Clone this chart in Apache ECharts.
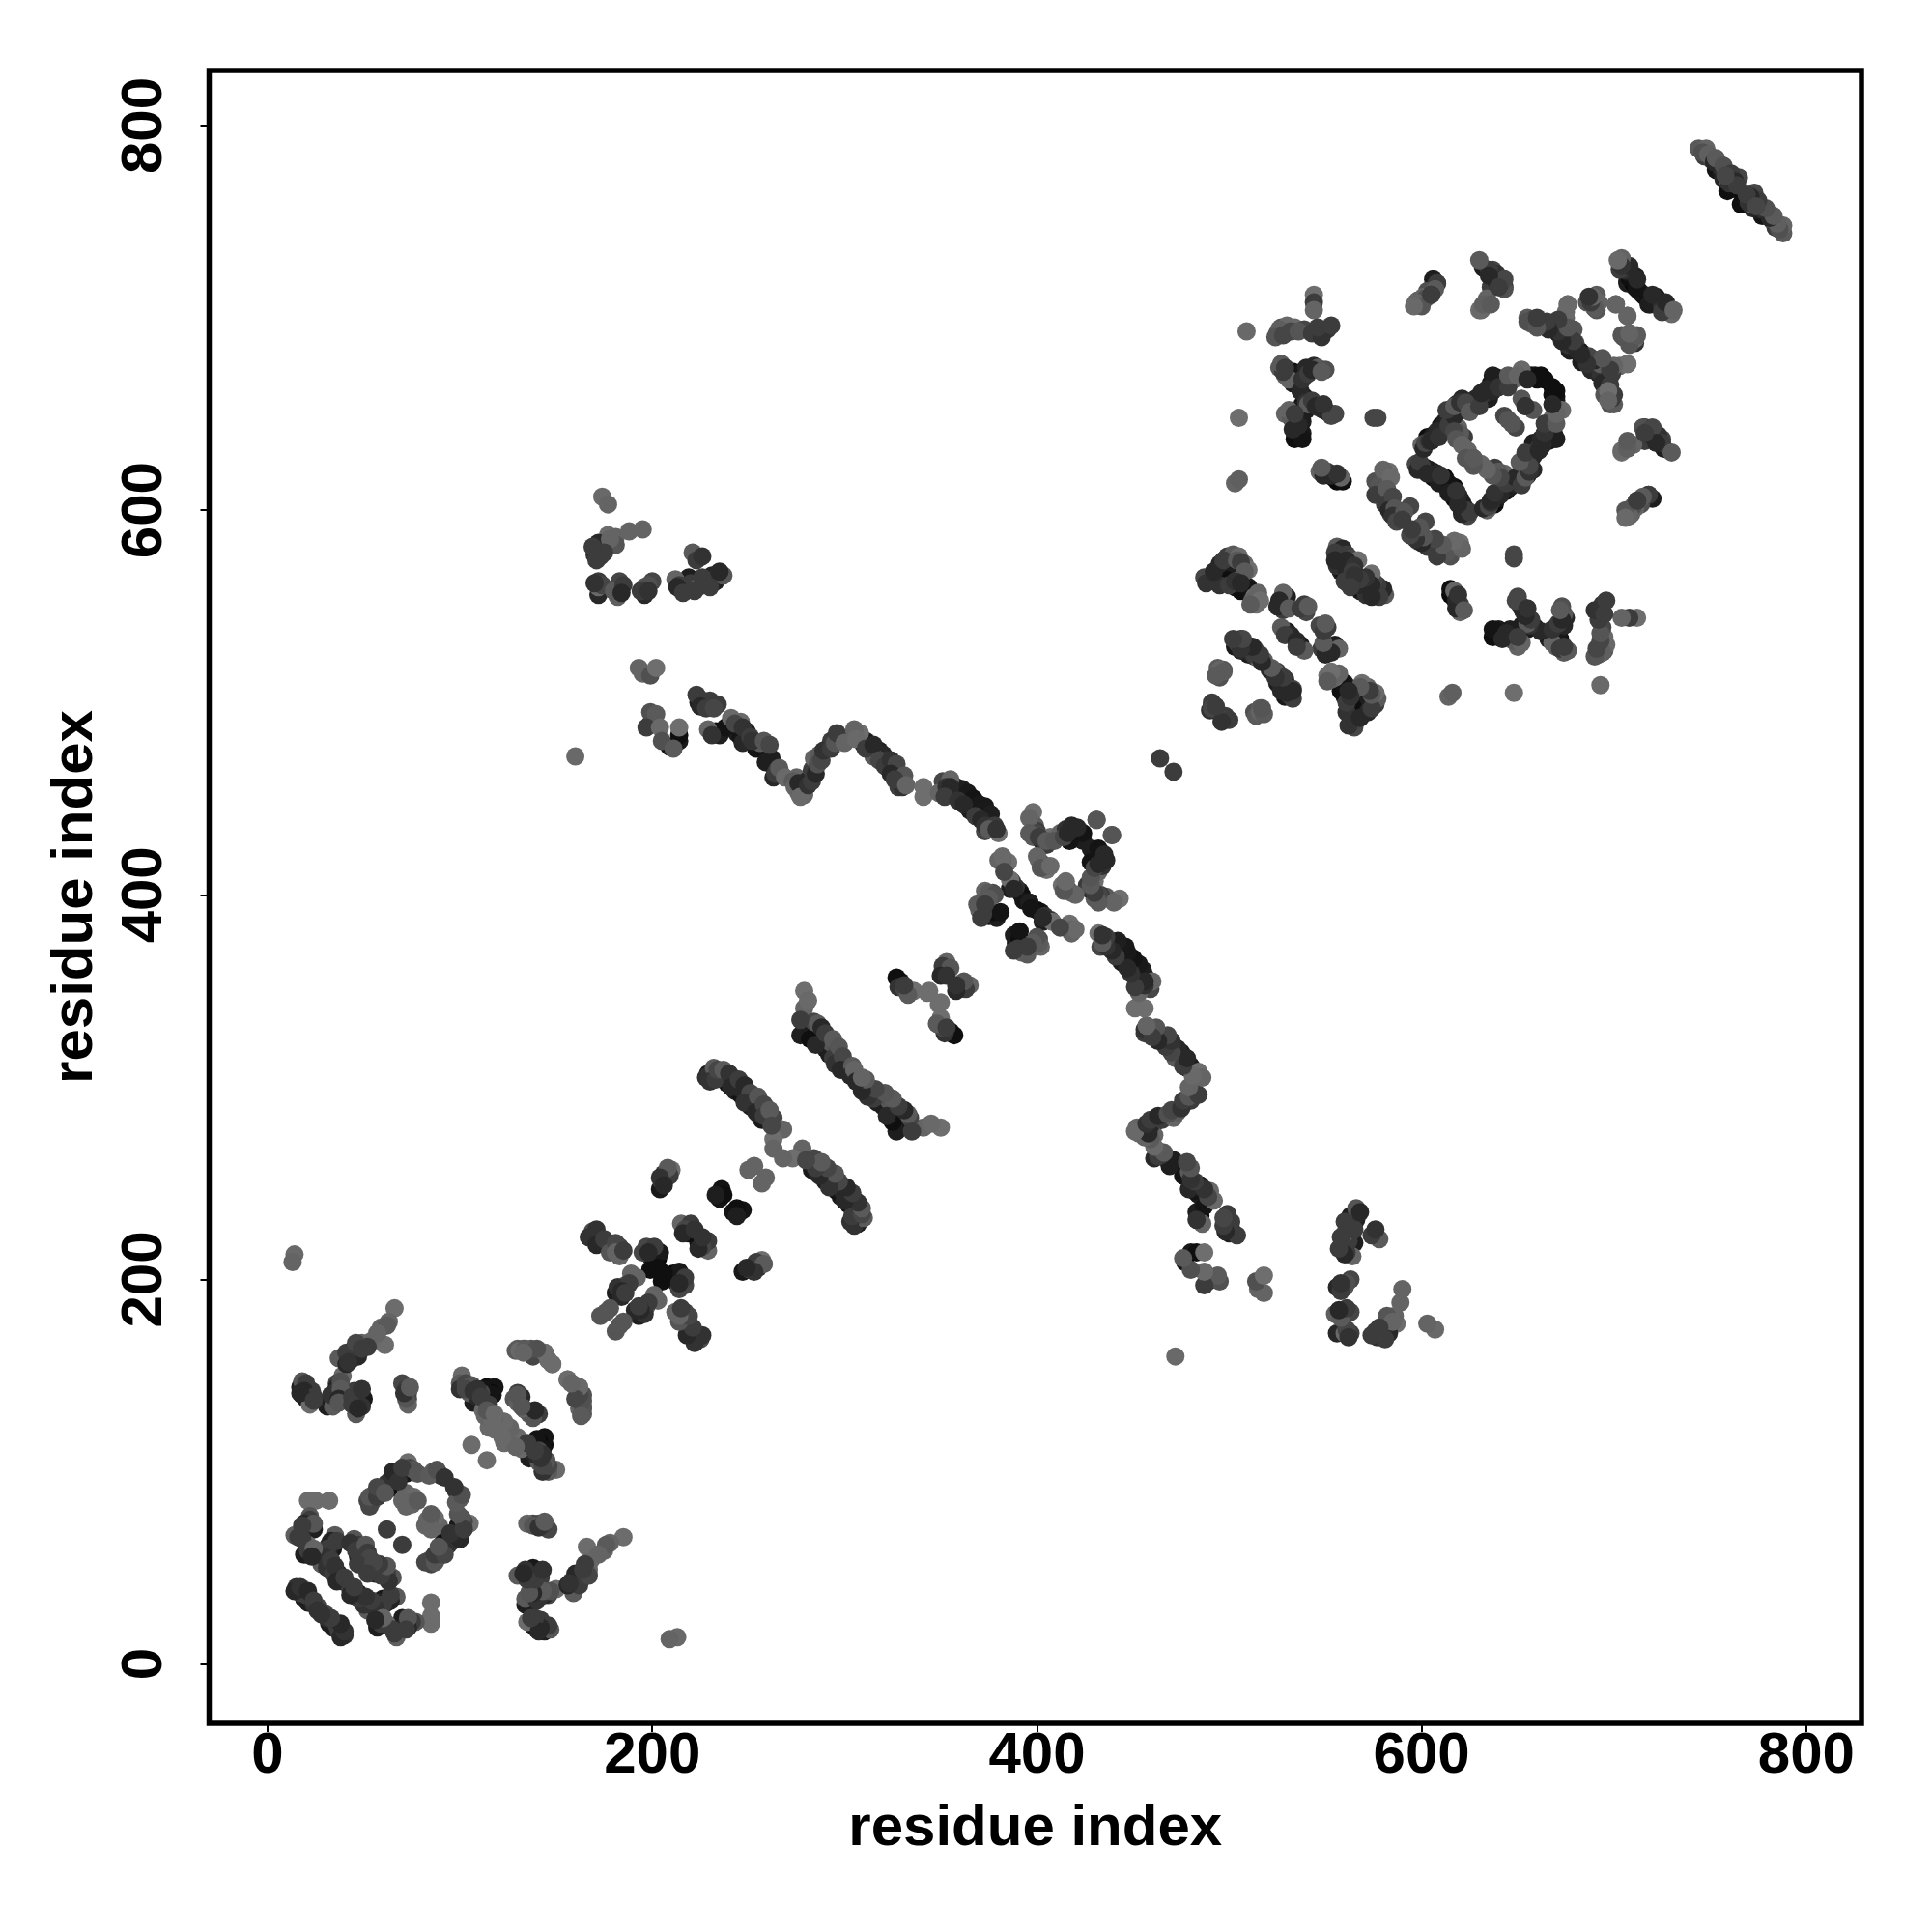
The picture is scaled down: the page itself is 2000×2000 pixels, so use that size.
<!DOCTYPE html>
<html>
<head>
<meta charset="utf-8">
<style>html,body{margin:0;padding:0;background:#fff}#c{width:2000px;height:2000px}</style>
<script src="https://cdn.jsdelivr.net/npm/echarts@6/dist/echarts.min.js"></script>
</head>
<body>
<div id="c"></div>
<script>
// Contact map: each entry is [residue i, residue j, grey level]. The map is symmetric.
const tickLabels = [0, 200, 400, 600, 800];
const axisTitle = 'residue index';

const bandA = [[15,40,50],[16,38,30],[17,37,60],[18,37,20],[20,36,60],[22,33,15],[24,31,50],[26,30,70],
 [35,67,90],[33,64,35],[32,62,25],[32,58,35],[31,55,45],[28,52,90],[31,50,50],[34,47,60],[37,45,50],[39,43,60],
 [45,65,85],[47,62,60],[48,61,70],[49,58,30],[49,55,25],[50,53,60],
 [14,38,40],[17,40,50],[19,34,30],[21,38,40],[21,32,30],[24,33,60],[26,28,50],
 [36,64,60],[31,60,60],[34,60,25],[29,56,50],[33,54,60],[35,51,50],[33,49,30],[37,47,30],[36,43,40],[40,45,60],
 [43,63,50],[46,59,60],[51,62,85],[52,58,60],[47,56,30],[53,55,70],[47,52,60]];
const bandB = [[21,85,108],[32,85,108],[25,85,108],[22,77,85],[22,75,60],[21,72,40],[20,70,20],[18,69,15],[14,67,95],[16,66,60],[21,62,105],[21,57,30],[21,59,60],
 [19,73,40],[24,73,85],[24,70,30],[18,72,60],[18,65,60],[24,60,100],[19,57,30],[23,56,40]];
const ringA = [[54,84,80],[55,86,85],[55,88,70],[58,90,80],[60,92,60],[62,94,50],[64,96,30],[66,97,15],[68,98,15],[70,99,25],[73,105,110],[74,102,70],[76,101,85],
 [86,100,90],[89,99,70],[90,98,50],[72,89,100],[76,87,105],[72,82,100],[74,84,95],[62,70,60],
 [53,82,70],[52,85,70],[53,87,85],[57,87,60],[57,92,70],[61,89,85],[63,91,30],[65,93,15],[65,100,40],[68,95,50],[70,102,60],[72,99,25],[78,99,85],[84,98,90],[88,101,80],[92,97,50],[70,85,100],[75,83,100],[78,85,90]];
const crossA = [[14,213,105],[13,209,100],[66,185,108],[63,178,100],[59,175,100],[61,166,108],[54,168,105],[49,167,100],[47,165,90],[45,164,50],[43,161,20],[44,160,30],[43,158,60],[37,159,90],
 [18,147,85],[17,144,30],[20,143,50],[23,142,60],[18,140,20],[20,138,25],[22,135,108],
 [39,150,105],[36,146,70],[36,144,40],[35,141,60],[35,139,25],[33,136,20],[31,134,30],[34,134,90],
 [45,142,60],[47,141,20],[48,139,10],[46,137,40],[48,136,20],[46,130,90],
 [70,146,70],[72,143,60],[73,141,80],[73,138,70],[73,135,100],
 [62,176,90],[57,172,100],[52,165,60],[47,160,40],[41,162,60],[46,167,70],[49,164,60],[41,156,40],[42,157,50],
 [20,146,60],[19,142,40],[24,139,60],[17,141,40],[24,137,60],[38,147,80],[33,140,50],[38,143,90],[37,138,40],[34,138,30],[37,136,85],[44,139,60],[49,143,50],[50,138,25],[49,134,50],[44,135,60],[47,133,40],[72,138,85],[71,141,50],[74,144,90]];
const crossB = [[101,150,105],[100,146,90],[100,143,50],[103,146,70],[106,145,85],[105,141,90],[107,136,30],[109,139,40],[111,141,70],[114,144,15],[118,144,20],[116,141,10],[114,138,10],[112,132,105],
 [117,127,108],[120,125,105],[115,123,105],[125,120,100],[123,116,105],[129,114,100],
 [130,141,60],[131,137,95],[136,130,95],[140,130,85],
 [103,143,70],[107,142,50],[109,143,50],[110,137,30],[112,143,20],[117,140,20],[112,136,20],[111,139,60],[115,135,60],[113,129,100],[119,124,100],[122,126,100],[118,122,105],[126,123,105],[128,118,100],[126,117,105],[132,114,85],[130,118,105],[128,138,85],[133,133,100],[132,139,40],[134,132,85]];
const crossC = [[130,164,90],[133,164,85],[136,163,80],[140,162,70],[144,162,105],[148,156,108],[156,148,108],[162,144,108],[164,137,85],[163,131,105],[164,134,90],
 [129,163,90],[138,160,70],[146,158,100],[158,146,108],[164,140,80],[162,133,100]];
const crossD = [[106,114,108]];
const loopA = [[160,472,105]];
const upperLeftA = [[174,607,105],[177,603,100],[177,587,108],[181,586,100],[188,589,100],[195,590,100],[172,580,25],[170,577,50],[173,576,60],[177,581,25],[172,583,40],[181,582,85],[178,585,100],
 [172,563,60],[172,556,40],[172,560,105],[183,563,70],[183,559,50],[182,555,95],[196,556,40],[196,560,90],[200,563,70],[198,561,80],
 [212,564,100],[214,561,60],[217,561,30],[218,559,80],[220,562,60],[224,560,90],[228,563,85],[231,566,35],[234,566,50],[237,566,85],
 [221,578,90],[223,574,60],[226,576,50],
 [173,582,30],[171,574,60],[175,578,60],[169,581,60],[174,561,70],[170,562,50],[180,558,90],[185,561,60],[184,557,40],[194,558,60],[198,558,50],[213,560,40],[219,565,30],[222,558,60],[216,557,60],[226,565,60],[230,560,60],[233,563,30],[235,568,40]];
const upperLeftB = [[193,518,100],[195,515,100],[199,514,80],[202,518,110],[199,495,80],[202,494,90],[197,487,60],[199,489,25],[204,487,105],[205,480,80],[209,477,15],[211,476,90],[214,487,110],[214,480,25],[214,483,15]];
const longStrandA = [[223,504,60],[224,500,30],[226,501,25],[230,501,60],[234,499,60],[229,486,100],[233,485,10],[236,485,15],[241,492,105],[246,490,105],[244,484,30],[249,485,25],[250,483,30],[247,479,40],
 [256,479,90],[258,476,30],[260,474,25],[262,468,25],[263,461,40],[265,465,60],[267,463,100],[275,461,100],[276,453,100],[278,456,60],[280,459,40],[281,461,30],[283,465,60],[284,471,100],[287,473,90],[291,476,60],[293,480,60],[298,481,100],
 [303,482,108],[308,484,110],[311,480,30],[313,478,20],[316,474,40],[320,473,40],[315,472,90],[322,470,50],[325,467,70],[327,463,40],[330,460,100],[328,456,60],[329,458,30],
 [225,498,40],[228,497,60],[232,497,70],[231,483,50],[235,483,30],[238,487,20],[243,489,70],[247,487,50],[246,482,20],[251,482,60],[252,480,50],[254,476,20],[258,480,85],[261,478,70],[262,471,30],[259,469,30],[264,463,60],[266,466,90],[269,461,105],[273,459,90],[274,456,100],[279,452,100],[276,458,40],[277,451,105],[281,457,50],[283,459,60],[285,463,40],[286,468,80],[288,470,70],[289,475,50],[293,476,60],[295,479,85],[296,484,60],[300,479,100],[305,486,100],[306,481,105],[310,478,20],[311,476,60],[315,478,40],[318,475,30],[318,470,70],[321,467,60],[324,470,50],[327,468,70],[324,463,40],[331,462,85],[330,456,50],[326,460,60],[332,457,100]];
const longStrandB = [[341,456,110],[341,451,110],[351,459,70],[355,460,100],[349,453,100],[353,456,50],[358,456,30],[360,452,20],[363,450,25],[365,447,20],[367,447,25],[370,444,20],[371,442,25],[374,439,25],[376,438,30],[373,433,70],[380,432,110],
 [355,456,40],[352,451,60],[357,453,25],[361,455,30],[359,449,50],[364,453,25],[362,447,40],[367,450,20],[365,444,30],[370,447,25],[368,441,60],[373,446,25],[371,439,40],[376,442,30],[373,436,50],[378,436,60],[375,434,90],[379,434,50]];
const ringB = [[398,443,110],[399,436,90],[398,430,90],[400,433,60],[403,427,40],[405,426,60],[407,430,110],[412,432,100],[415,434,50],[418,436,40],[420,433,20],[422,430,10],[424,428,30],
 [401,418,100],[403,416,90],[405,413,110],[431,439,85],[439,431,85],
 [396,440,100],[400,432,70],[396,432,90],[401,430,60],[405,428,90],[409,428,85],[414,430,70],[416,432,40],[417,428,20],[421,435,40],[424,432,20],[400,420,100],[402,414,85],[407,415,105]];
const ringC = [[380,418,100],[385,417,110],[387,407,60],[389,404,50],[391,402,25],[392,400,15],[396,396,30],[377,401,70],[373,402,100],[375,401,90],[370,392,100],[372,390,60],[375,389,20],[379,389,10],[379,388,30],[371,392,30],[378,400,80],[386,408,110],[382,418,100],
 [382,420,105],[388,403,40],[386,403,30],[383,412,70],[393,397,20],[375,398,90],[369,395,90],[371,388,60],[377,391,15],[381,391,20],[373,395,60]];
const hairpinA = [[169,225,75],[169,222,30],[172,219,60],[177,217,70],[183,217,65],[183,212,100],[170,223,50],
 [197,217,70],[201,217,60],[203,211,5],[201,208,15],[192,201,100],[186,197,100],[182,196,50],[184,191,40],[178,185,85],[173,181,85],
 [215,229,100],[220,229,60],[219,224,15],[236,247,20],[235,242,20],[253,259,100],[250,257,100],
 [210,257,110],[206,255,50],[205,251,70],[204,247,25],
 [171,226,50],[167,222,50],[171,218,40],[175,221,60],[178,214,85],[181,219,70],[181,214,100],[185,215,60],[195,214,70],[198,214,40],[199,212,30],[204,214,25],[199,205,15],[203,206,15],[189,203,100],[188,198,60],[184,194,40],[186,193,60],[181,193,30],[176,183,85],
 [217,226,70],[216,224,40],[222,226,50],[237,244,15],[233,244,30],[209,254,60],[208,258,90],[204,253,50],[206,249,40]];
const hairpinB = [[228,305,50],[229,307,30],[232,310,90],[236,307,70],[238,305,40],[242,303,15],[244,301,30],[246,299,40],[249,298,30],[250,294,20],[252,293,60],[253,290,20],[256,288,85],[255,286,40],[260,286,60],[263,284,70],[268,278,100],[263,273,110],[263,268,100],
 [230,303,50],[233,304,60],[234,309,70],[237,309,90],[239,302,20],[240,307,50],[241,300,40],[245,304,60],[243,298,30],[248,301,40],[246,296,20],[251,297,70],[248,292,50],[255,295,85],[251,290,30],[254,287,40],[258,291,70],[258,285,60],[261,288,90],[257,283,25],[262,280,70]];
const hairpinC = [[279,350,110],[279,341,100],[279,336,100],[279,330,30],[284,334,70],[281,328,20],[286,330,15],[284,326,20],[288,326,15],[293,323,85],[290,320,30],[296,319,80],[294,315,60],[300,311,30],[298,313,15],[302,308,100],
 [281,345,105],[277,335,60],[277,327,30],[282,325,15],[286,333,90],[288,331,40],[285,322,40],[290,328,60],[291,321,20],[294,325,90],[292,317,30],[297,321,85],[295,312,50],[299,316,70],[301,309,15],[298,309,40],[304,311,90],[303,306,40],[305,309,100]];
const hairpinD = [[329,355,20],[328,352,50],[331,351,70],[336,350,110],[344,350,110],[349,343,110],[353,365,100],[353,360,40],[352,362,70],
 [327,357,15],[333,348,90],[331,353,60],[351,363,60],[355,362,85],[350,358,40],[353,358,50]];
const midA = [[487,565,70],[490,565,20],[495,572,40],[497,570,30],[499,576,60],[502,577,90],[505,576,105],[508,572,100],[510,569,110],[495,561,50],[500,561,60],[503,560,30],[506,558,15],[513,555,110],[514,551,110],[512,553,100],
 [528,557,100],[527,551,15],[529,553,25],[528,548,60],[539,551,60],[540,547,70],[530,537,25],[527,539,90],
 [504,532,30],[505,530,40],[507,529,15],[509,528,30],[511,526,40],[516,524,90],[523,515,100],[525,513,60],[527,510,15],[529,507,30],[531,504,60],
 [495,516,100],[495,514,30],[491,498,70],[497,491,70],[513,495,80],[517,495,100],
 [488,562,50],[492,568,40],[494,567,20],[497,574,60],[501,572,30],[504,574,90],[506,573,60],[508,568,90],[503,563,50],[498,564,15],[506,562,40],[510,560,25],[511,558,20],[515,557,100],[516,553,110],[511,551,90],
 [526,553,40],[530,555,30],[525,550,40],[531,549,90],[537,549,60],[541,550,90],[532,535,40],[529,535,60],
 [506,533,40],[503,529,25],[506,527,40],[509,530,30],[513,528,60],[513,524,50],[518,522,90],[521,517,40],[525,516,60],[525,510,30],[529,512,40],[528,506,50],[533,507,70],[533,502,60],[491,500,60],
 [490,496,50],[498,493,60],[516,497,90],[494,518,90],[497,517,85],[514,493,90]];
const midB = [[556,581,90],[559,580,40],[561,577,60],[563,575,70],[567,574,110],[556,571,50],[558,568,30],[560,566,15],[563,562,25],
 [555,578,60],[558,577,25],[557,575,30],[561,574,40],[555,574,40],[559,571,15],[561,569,40],[565,571,50],[562,566,30],[564,568,60],[566,565,50],[560,563,60]];
const blockA = [[505,648,110],[503,614,100],[505,616,95],[509,693,105],
 [525,692,85],[527,695,80],[530,696,105],[534,695,105],[539,694,70],[546,692,50],[551,694,55],[544,712,110],[544,708,60],[544,704,100],
 [526,674,90],[529,670,95],[531,668,100],[534,667,20],[535,669,15],[537,671,30],[540,674,40],[544,675,40],[546,674,90],[550,673,80],
 [537,662,40],[539,659,30],[540,656,50],[541,655,90],[547,653,85],[551,651,20],[555,650,70],[529,650,100],[532,648,90],[536,648,30],[536,644,40],[536,641,20],[536,638,15],
 [547,620,100],[551,620,60],[554,617,20],[556,615,10],[558,617,100],[575,648,70],[577,648,70],
 [528,672,60],[531,671,30],[533,672,20],[533,666,30],[536,666,15],[538,668,50],[538,672,25],[541,671,60],[543,673,40],[548,672,90],[527,676,90],[529,674,60],
 [538,655,25],[540,652,30],[543,657,60],[545,654,40],[549,652,40],[553,649,70],[549,655,50],[531,652,100],[534,645,25],[533,642,40],[538,646,30],[534,650,60],[538,640,25],[534,637,15],[538,637,20],
 [526,694,95],[524,690,85],[528,691,70],[532,693,70],[536,693,85],[543,692,60],[548,690,50],[546,695,60],[553,696,60],
 [549,618,40],[553,618,40],[556,619,50],[559,615,15],[548,622,90]];
const blockB = [[576,615,80],[583,620,110],[581,616,100],[578,611,80],[580,607,60],[582,604,30],[584,601,40],[584,598,80],[589,597,100],[594,602,70],
 [597,624,70],[600,623,60],[602,622,30],[604,621,30],[608,619,40],[612,617,10],
 [578,613,85],[580,621,100],[584,617,105],[576,608,60],[582,611,90],[581,603,60],[585,607,70],[583,600,40],[586,601,85],[585,597,50],[587,594,70],[591,599,85],[590,595,60],
 [598,621,40],[600,621,15],[599,625,60],[603,619,40],[606,620,30],[606,617,15],[610,618,50],[613,615,20],[609,614,30]];
const ringD = [[600,634,100],[603,638,15],[606,639,30],[608,641,40],[610,644,20],[612,646,30],[614,648,40],[616,651,30],[618,655,20],[621,658,40],[622,652,100],[626,654,100],[628,658,40],[632,658,30],[633,661,50],[634,663,40],[636,666,20],[639,669,30],[643,667,15],[648,668,105],[652,673,105],[657,670,25],[659,670,20],[662,670,15],
 [619,643,100],[622,638,60],[624,631,100],[620,640,90],[643,649,70],[645,647,85],[652,658,85],[654,654,50],
 [601,632,40],[602,635,70],[604,636,50],[605,636,40],[609,638,50],[611,642,30],[614,644,60],[617,649,40],[613,652,60],[617,654,90],[620,656,50],[623,656,70],[625,651,90],[628,655,20],[630,654,60],[631,661,40],[635,658,30],[637,662,40],[640,664,50],[637,670,30],[645,664,60],[645,670,90],[650,670,100],[655,668,40],[660,668,15],[664,668,15],
 [617,641,70],[618,637,85],[621,634,100],[623,627,85],[627,627,90]];
const rightA = [[655,700,90],[658,699,60],[662,697,110],[668,696,25],[671,692,30],[676,707,110],[675,700,100],[676,693,90],[678,690,40],[680,687,70],[683,682,20],[686,679,40],[689,676,20],[691,674,60],[694,673,90],[698,674,100],[703,675,105],[707,676,105],[696,668,60],[696,663,100],[699,658,70],[698,655,80],
 [689,711,100],[689,708,90],[690,705,85],[701,707,100],[707,701,100],[705,690,90],[708,688,60],[711,689,100],[711,687,50],
 [709,720,5],[706,725,50],[708,722,30],[711,716,15],[714,713,30],[718,710,10],[721,708,15],[724,707,30],[727,704,50],[730,702,105],
 [673,698,60],[679,694,85],[674,688,20],[676,686,50],[681,683,40],[683,677,30],[688,679,60],[688,673,40],[692,676,30],[693,671,50],[695,676,85],[699,671,60],[694,666,40],[698,665,60],[695,660,85],[700,660,60],[657,697,100],
 [710,718,15],[707,718,30],[712,720,40],[715,712,20],[707,719,30],[711,722,30],[703,725,60],[708,727,40],[704,731,100],
 [686,708,85],[692,708,100],[691,712,90],[691,704,85],[692,708,100]];
const rightB = [[634,709,105],[630,704,110],[641,721,85],[637,725,70],[639,723,50],[641,717,30],[636,716,60],[608,718,60],[603,714,80],[605,715,25],[598,709,90],[601,711,100],
 [631,704,105],[634,710,100],[643,715,80],[641,718,50],[639,720,15],[638,721,30],[635,725,60],[630,730,90],[632,726,30],
 [608,718,60],[607,715,90],[605,712,50],[602,710,80],[597,708,100],
 [632,707,95],[636,707,90],[639,719,40],[643,720,70],[635,722,40],[640,716,60],[643,716,30],[600,706,85],[605,712,60],[606,720,30],[596,706,105]];
const tipA = [[744,788,90],[748,788,100],[747,784,60],[751,782,70],[750,783,30],[755,780,100],[753,777,20],[756,778,50],[757,772,40],[759,772,105],[765,773,70],[759,766,15],[762,768,30],
 [746,786,80],[749,785,95],[752,781,40],[753,783,90],[756,775,30],[757,779,80],[760,770,50],[761,775,60],[763,771,40],[761,767,15],[764,769,60],[758,774,70]];
const nearDiagonal = [[464,471,60]];

const contacts = [].concat(bandA, bandB, ringA, crossA, crossB, crossC, crossD, loopA, upperLeftA, upperLeftB, longStrandA, longStrandB, ringB, ringC, hairpinA, hairpinB, hairpinC, hairpinD, midA, midB, blockA, blockB, ringD, rightA, rightB, tipA, nearDiagonal);

const points = [];
contacts.forEach(c => { points.push(c); });
contacts.forEach(c => { points.push([c[1], c[0], c[2]]); });
// Very dark marks are drawn first, so the lighter ones sit on top of them as in the reference.
const drawOrder = points.filter(p => p[2] < 35).concat(points.filter(p => p[2] >= 35));

const chart = echarts.init(document.getElementById('c'), null, {renderer: 'canvas', width: 2000, height: 2000});
const fontBase = {fontFamily: '"Liberation Sans", Arial, sans-serif', fontWeight: 'bold', fontSize: 60, color: '#000'};
chart.setOption({
  animation: false,
  backgroundColor: '#fff',
  grid: {left: 216.5, right: 73, top: 73, bottom: 216, show: true, borderWidth: 5.5, borderColor: '#000', backgroundColor: 'transparent'},
  xAxis: {
    type: 'value', min: -30.4, max: 828.7,
    name: axisTitle, nameLocation: 'middle', nameGap: 79, nameMoveOverlap: false, nameTextStyle: fontBase,
    axisLine: {show: false, onZero: false}, splitLine: {show: false},
    axisTick: {show: true, length: 9, lineStyle: {color: '#000', width: 2}, customValues: tickLabels},
    axisLabel: Object.assign({show: true, margin: 4, customValues: tickLabels, formatter: v => String(v)}, fontBase)
  },
  yAxis: {
    type: 'value', min: -30.8, max: 828.6,
    name: axisTitle, nameLocation: 'middle', nameGap: 108, nameRotate: 90, nameMoveOverlap: false, nameTextStyle: fontBase,
    axisLine: {show: false, onZero: false}, splitLine: {show: false},
    axisTick: {show: true, length: 9, lineStyle: {color: '#000', width: 2}, customValues: tickLabels},
    axisLabel: Object.assign({show: true, margin: 66, rotate: 90, align: 'center', verticalAlign: 'middle', customValues: tickLabels, formatter: v => String(v)}, fontBase)
  },
  series: [{
    type: 'scatter', data: drawOrder, symbol: 'circle', symbolSize: 19, silent: true, large: false,
    encode: {x: 0, y: 1},
    itemStyle: {opacity: 1, color: p => { const g = p.value[2]; return 'rgb(' + g + ',' + g + ',' + g + ')'; }}
  }]
});
</script>
</body>
</html>
